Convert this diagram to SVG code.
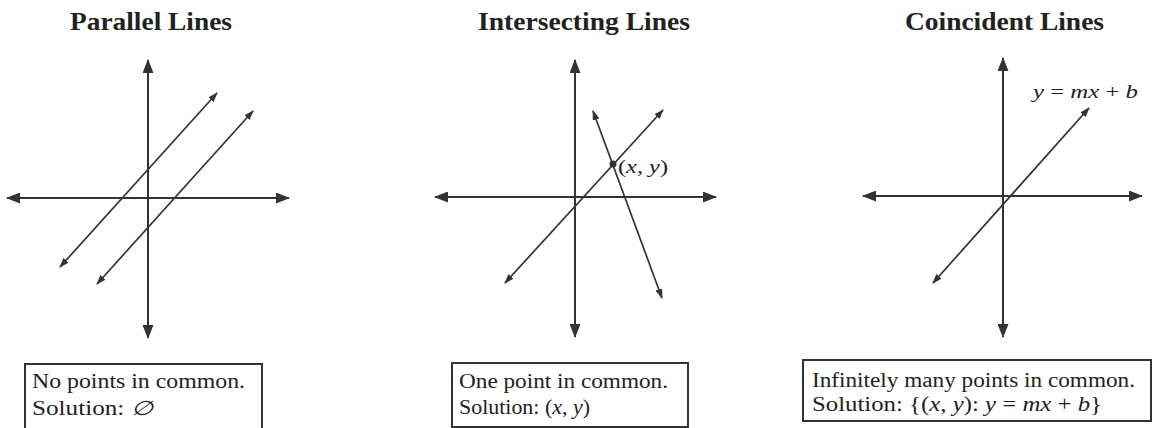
<svg xmlns="http://www.w3.org/2000/svg" width="1154" height="428" viewBox="0 0 1154 428">
<style>
.title{font-family:"Liberation Serif","Times New Roman",serif;font-weight:bold;font-size:26px;fill:#222}
.txt{font-family:"Liberation Serif","Times New Roman",serif;font-size:20px;fill:#222}
.lbl{font-family:"Liberation Serif","Times New Roman",serif;font-size:19px;fill:#222}
.it{font-style:italic}
.axis{stroke:#333;stroke-width:2;fill:none;marker-start:url(#ah);marker-end:url(#ah)}
.ln{stroke:#333;stroke-width:1.7;fill:none;marker-start:url(#lh);marker-end:url(#lh)}
.box{fill:#fff;stroke:#333;stroke-width:2}
</style>
<defs>
<marker id="ah" viewBox="0 0 14 11" refX="13" refY="5.5" markerWidth="14" markerHeight="11" markerUnits="userSpaceOnUse" orient="auto-start-reverse"><path d="M0,0 L14,5.5 L0,11 z" fill="#333"/></marker>
<marker id="lh" viewBox="0 0 10 7" refX="9" refY="3.5" markerWidth="10" markerHeight="7" markerUnits="userSpaceOnUse" orient="auto-start-reverse"><path d="M0,0 L10,3.5 L0,7 z" fill="#333"/></marker>
</defs>
<rect width="1154" height="428" fill="#fff"/>
<g id="connectors">
<line class="axis" x1="148" y1="60" x2="148" y2="338"/>
<line class="axis" x1="7" y1="198" x2="289" y2="198"/>
<line class="ln" x1="60" y1="267" x2="217" y2="93"/>
<line class="ln" x1="97" y1="284" x2="253" y2="111"/>
<line class="axis" x1="575" y1="60" x2="575" y2="337"/>
<line class="axis" x1="435" y1="197" x2="716" y2="197"/>
<line class="ln" x1="505" y1="283" x2="663" y2="110"/>
<line class="ln" x1="593" y1="111" x2="662" y2="298"/>
<line class="axis" x1="1003" y1="58" x2="1003" y2="337"/>
<line class="axis" x1="863" y1="196" x2="1142" y2="196"/>
<line class="ln" x1="933" y1="283" x2="1089" y2="108"/>
</g>
<g id="parallel">
<text class="title" x="70" y="30" textLength="162" lengthAdjust="spacingAndGlyphs">Parallel Lines</text>
<rect class="box" x="25" y="364" width="237" height="70"/>
<text class="txt" x="32" y="388" textLength="213" lengthAdjust="spacingAndGlyphs">No points in common.</text>
<text class="txt" x="32" y="415" textLength="120" lengthAdjust="spacingAndGlyphs">Solution: <tspan font-family="DejaVu Serif, serif" font-style="italic">∅</tspan></text>
</g>
<g id="intersecting">
<text class="title" x="478" y="30" textLength="212" lengthAdjust="spacingAndGlyphs">Intersecting Lines</text>
<circle cx="613" cy="164" r="3.5" fill="#333"/>
<text class="lbl" x="618" y="173" textLength="50" lengthAdjust="spacingAndGlyphs">(<tspan class="it">x</tspan>, <tspan class="it">y</tspan>)</text>
<rect class="box" x="452" y="363" width="236" height="64"/>
<text class="txt" x="459" y="388" textLength="209" lengthAdjust="spacingAndGlyphs">One point in common.</text>
<text class="txt" x="459" y="414" textLength="131" lengthAdjust="spacingAndGlyphs">Solution: (<tspan class="it">x</tspan>, <tspan class="it">y</tspan>)</text>
</g>
<g id="coincident">
<text class="title" x="905" y="30" textLength="199" lengthAdjust="spacingAndGlyphs">Coincident Lines</text>
<text class="lbl" x="1033" y="98" textLength="105" lengthAdjust="spacingAndGlyphs"><tspan class="it">y</tspan> = <tspan class="it">mx</tspan> + <tspan class="it">b</tspan></text>
<rect class="box" x="803" y="360" width="348" height="61"/>
<text class="txt" x="812" y="387" textLength="323" lengthAdjust="spacingAndGlyphs">Infinitely many points in common.</text>
<text class="txt" x="812" y="411" textLength="290" lengthAdjust="spacingAndGlyphs">Solution: {(<tspan class="it">x</tspan>, <tspan class="it">y</tspan>): <tspan class="it">y</tspan> = <tspan class="it">mx</tspan> + <tspan class="it">b</tspan>}</text>
</g>
</svg>
